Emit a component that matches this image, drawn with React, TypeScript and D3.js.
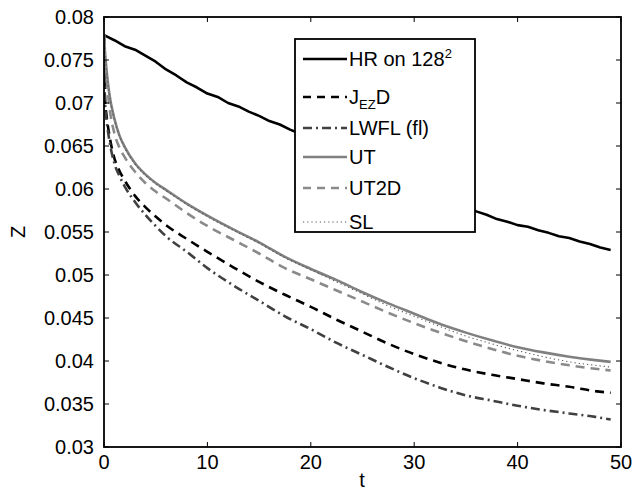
import React from "react";
import * as d3 from "d3";

const W = 634;
const H = 492;

const xTicks = [0, 10, 20, 30, 40, 50];
const yTicks = [0.03, 0.035, 0.04, 0.045, 0.05, 0.055, 0.06, 0.065, 0.07, 0.075, 0.08];
const yTickLabels = ["0.03", "0.035", "0.04", "0.045", "0.05", "0.055", "0.06", "0.065", "0.07", "0.075", "0.08"];

// HR on 128^2 (t = 0..49 step 1)
const hrT = Array.from({ length: 50 }, (_, i) => i);
const hrZ = [
  0.0779, 0.0773, 0.0766, 0.0762, 0.0755, 0.0748, 0.0739, 0.0732, 0.0724, 0.0718,
  0.0711, 0.0707, 0.0700, 0.0696, 0.0690, 0.0685, 0.0679, 0.0675, 0.0669, 0.0664,
  0.0658, 0.0654, 0.0648, 0.0643, 0.0637, 0.0633, 0.0626, 0.0622, 0.0616, 0.0612,
  0.0605, 0.0601, 0.0595, 0.0591, 0.0584, 0.0580, 0.0574, 0.0570, 0.0565, 0.0562,
  0.0558, 0.0556, 0.0552, 0.0549, 0.0545, 0.0543, 0.0539, 0.0536, 0.0532, 0.0529,
];

// common time grid for the model curves
const tGrid = [0, 0.1, 0.25, 0.5, 1, 1.5, 2, 3, 4, 5, 6, 8, 10, 12.5, 15, 17.5, 20, 22.5, 25, 27.5, 30, 32.5, 35, 37.5, 40, 42.5, 45, 47.5, 49];

const jezdZ = [0.0779, 0.0705, 0.0685, 0.0664, 0.0636, 0.0621, 0.0610, 0.0592, 0.0579, 0.0568, 0.0558, 0.0542, 0.0527, 0.0509, 0.0492, 0.0477, 0.0463, 0.0448, 0.0434, 0.0420, 0.0408, 0.0398, 0.0390, 0.0384, 0.0379, 0.0374, 0.0370, 0.0365, 0.0363];
const lwflZ = [0.0779, 0.0700, 0.0680, 0.0658, 0.0630, 0.0615, 0.0603, 0.0585, 0.0570, 0.0557, 0.0545, 0.0527, 0.0508, 0.0488, 0.0470, 0.0452, 0.0437, 0.0421, 0.0407, 0.0393, 0.0380, 0.0369, 0.0360, 0.0354, 0.0348, 0.0343, 0.0339, 0.0335, 0.0332];
const utZ = [0.0779, 0.0758, 0.0738, 0.0712, 0.0682, 0.0662, 0.0649, 0.0630, 0.0617, 0.0607, 0.0599, 0.0583, 0.0569, 0.0553, 0.0538, 0.0521, 0.0507, 0.0494, 0.0480, 0.0467, 0.0455, 0.0443, 0.0433, 0.0424, 0.0416, 0.0410, 0.0405, 0.0401, 0.0399];
const ut2dZ = [0.0779, 0.0752, 0.0728, 0.0698, 0.0665, 0.0648, 0.0637, 0.0620, 0.0607, 0.0597, 0.0589, 0.0572, 0.0557, 0.0541, 0.0525, 0.0508, 0.0495, 0.0482, 0.0469, 0.0456, 0.0444, 0.0433, 0.0423, 0.0414, 0.0406, 0.0400, 0.0395, 0.0391, 0.0389];
const slZ = [0.0779, 0.0757, 0.0737, 0.0711, 0.0681, 0.0661, 0.0648, 0.0629, 0.0616, 0.0606, 0.0598, 0.0582, 0.0568, 0.0552, 0.0537, 0.0520, 0.0506, 0.0492, 0.0478, 0.0464, 0.0452, 0.0440, 0.0429, 0.0420, 0.0412, 0.0405, 0.0399, 0.0395, 0.0393];

const FONT = "'Liberation Sans', Arial, Helvetica, sans-serif";

export default function App() {
  const left = 104, right = 621, top = 17, bottom = 447;
  const x = d3.scaleLinear().domain([0, 50]).range([left, right]);
  const y = d3.scaleLinear().domain([0.03, 0.08]).range([bottom, top]);

  const lineLin = d3.line<[number, number]>().x((d) => x(d[0])).y((d) => y(d[1]));
  const lineSmooth = d3
    .line<[number, number]>()
    .x((d) => x(d[0]))
    .y((d) => y(d[1]))
    .curve(d3.curveMonotoneX);

  const zip = (ts: number[], zs: number[]) => ts.map((t, i) => [t, zs[i]] as [number, number]);

  const series = [
    { key: "hr", d: lineLin(zip(hrT, hrZ)), stroke: "#000", w: 2.6, dash: undefined },
    { key: "jezd", d: lineSmooth(zip(tGrid, jezdZ)), stroke: "#000", w: 2.6, dash: "9,6" },
    { key: "lwfl", d: lineSmooth(zip(tGrid, lwflZ)), stroke: "#404040", w: 2.6, dash: "9,4,2,4" },
    { key: "ut", d: lineSmooth(zip(tGrid, utZ)), stroke: "#808080", w: 2.6, dash: undefined },
    { key: "ut2d", d: lineSmooth(zip(tGrid, ut2dZ)), stroke: "#8a8a8a", w: 2.6, dash: "9,6" },
    { key: "sl", d: lineSmooth(zip(tGrid, slZ)), stroke: "#555", w: 1.1, dash: "1.2,3" },
  ];

  const legendRows = [
    { y: 59, stroke: "#000", w: 2.6, dash: undefined as string | undefined, label: "hr" },
    { y: 97, stroke: "#000", w: 2.6, dash: "8,6", label: "jezd" },
    { y: 128, stroke: "#404040", w: 2.6, dash: "9,4,2,4", label: "lwfl" },
    { y: 157, stroke: "#808080", w: 2.6, dash: undefined, label: "ut" },
    { y: 188, stroke: "#8a8a8a", w: 2.6, dash: "8,6", label: "ut2d" },
    { y: 222, stroke: "#555", w: 1.1, dash: "1.2,3", label: "sl" },
  ];

  const renderLabel = (k: string) => {
    switch (k) {
      case "hr":
        return (
          <>
            HR on 128
            <tspan fontSize={13} dy={-8}>2</tspan>
          </>
        );
      case "jezd":
        return (
          <>
            J
            <tspan fontSize={13} dy={5}>EZ</tspan>
            <tspan dy={-5}>D</tspan>
          </>
        );
      case "lwfl":
        return "LWFL (fl)";
      case "ut":
        return "UT";
      case "ut2d":
        return "UT2D";
      default:
        return "SL";
    }
  };

  const tickLen = 5;

  return (
    <svg
      width={W}
      height={H}
      style={{ position: "absolute", left: 0, top: 0, background: "#fff" }}
      fontFamily={FONT}
    >
      <rect x={0} y={0} width={W} height={H} fill="#fff" />
      <defs>
        <clipPath id="plotclip">
          <rect x={left} y={top} width={right - left} height={bottom - top} />
        </clipPath>
      </defs>

      <g clipPath="url(#plotclip)">
        {series.map((s) => (
          <path
            key={s.key}
            d={s.d || ""}
            fill="none"
            stroke={s.stroke}
            strokeWidth={s.w}
            strokeDasharray={s.dash}
            strokeLinejoin="round"
          />
        ))}
      </g>

      {/* ticks */}
      {xTicks.map((t) => (
        <g key={"xt" + t}>
          <line x1={x(t)} x2={x(t)} y1={bottom} y2={bottom - tickLen} stroke="#000" strokeWidth={1} />
          <line x1={x(t)} x2={x(t)} y1={top} y2={top + tickLen} stroke="#000" strokeWidth={1} />
          <text x={x(t)} y={469} fontSize={20} textAnchor="middle" fill="#000">
            {t}
          </text>
        </g>
      ))}
      {yTicks.map((v, i) => (
        <g key={"yt" + i}>
          <line x1={left} x2={left + tickLen} y1={y(v)} y2={y(v)} stroke="#000" strokeWidth={1} />
          <line x1={right} x2={right - tickLen} y1={y(v)} y2={y(v)} stroke="#000" strokeWidth={1} />
          <text x={94} y={y(v) + 7} fontSize={20} textAnchor="end" fill="#000">
            {yTickLabels[i]}
          </text>
        </g>
      ))}

      {/* axes box */}
      <rect x={left} y={top} width={right - left} height={bottom - top} fill="none" stroke="#000" strokeWidth={1.8} />

      {/* axis labels */}
      <text x={362} y={487} fontSize={20} textAnchor="middle" fill="#000">
        t
      </text>
      <text transform="translate(25,232) rotate(-90)" fontSize={20} textAnchor="middle" fill="#000">
        Z
      </text>

      {/* legend */}
      <rect x={295} y={39} width={180} height={193} fill="#fff" stroke="#000" strokeWidth={1.8} />
      {legendRows.map((r) => (
        <g key={"lg" + r.label}>
          <line x1={303} x2={347} y1={r.y} y2={r.y} stroke={r.stroke} strokeWidth={r.w} strokeDasharray={r.dash} />
          <text x={349} y={r.y + 7} fontSize={20} fill="#000">
            {renderLabel(r.label)}
          </text>
        </g>
      ))}
    </svg>
  );
}
